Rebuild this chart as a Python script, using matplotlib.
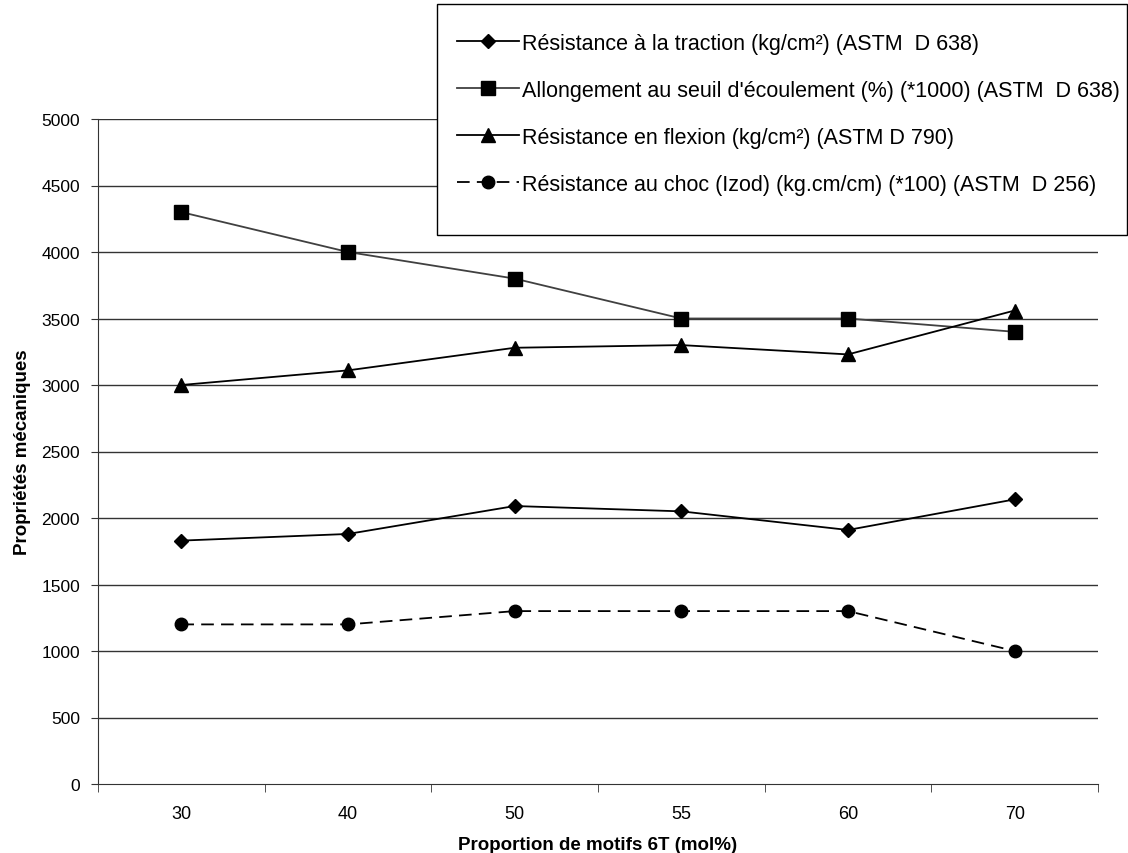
import numpy as np
import matplotlib.pyplot as plt
from matplotlib.patches import Rectangle

plt.rcParams['font.family'] = ['Liberation Sans', 'DejaVu Sans']

# Data
categories = ["30", "40", "50", "55", "60", "70"]
traction = [1830, 1880, 2090, 2050, 1910, 2140]
allongement = [4300, 4000, 3800, 3500, 3500, 3400]
flexion = [3000, 3110, 3280, 3300, 3230, 3560]
choc = [1200, 1200, 1300, 1300, 1300, 1000]

labels = [
    "Résistance à la traction (kg/cm²) (ASTM  D 638)",
    "Allongement au seuil d'écoulement (%) (*1000) (ASTM  D 638)",
    "Résistance en flexion (kg/cm²) (ASTM D 790)",
    "Résistance au choc (Izod) (kg.cm/cm) (*100) (ASTM  D 256)",
]

W, H = 1128, 854
fig = plt.figure(figsize=(W / 100, H / 100), dpi=100)
ax = fig.add_axes([98 / W, 1 - 785 / H, 1000 / W, 665 / H])

x = np.arange(len(categories))

# grid lines
for yv in range(500, 5001, 500):
    ax.axhline(yv, color="#333333", lw=1.0, zorder=0)

ax.plot(x, traction, color="black", lw=1.3, marker="D", markersize=7, label=labels[0])
ax.plot(x, allongement, color="#404040", lw=1.3, marker="s", markersize=9.5,
        mfc="black", mec="black", label=labels[1])
ax.plot(x, flexion, color="black", lw=1.3, marker="^", markersize=10, label=labels[2])
ax.plot(x, choc, color="black", lw=1.3, marker="o", markersize=9, dashes=(7, 4), label=labels[3])

ax.set_xlim(-0.5, len(categories) - 0.5)
ax.set_ylim(0, 5000)
ax.set_yticks(range(0, 5001, 500))
ax.set_xticks(x)
ax.set_xticklabels(categories)
ax.set_xticks(np.arange(-0.5, len(categories)), minor=True)
ax.tick_params(axis="x", which="major", length=0, pad=15, labelsize=13)
ax.tick_params(axis="x", which="minor", length=6, color="#333333")
ax.tick_params(axis="y", length=5, labelsize=12.5, color="#333333", pad=8)

for s in ["top", "right"]:
    ax.spines[s].set_visible(False)
for s in ["left", "bottom"]:
    ax.spines[s].set_color("#333333")

ax.set_xlabel("Proportion de motifs 6T (mol%)", fontsize=13.5, fontweight="bold", labelpad=10)
ax.set_ylabel("Propriétés mécaniques", fontsize=13.5, fontweight="bold", labelpad=7)

# legend frame drawn separately (Excel-style box)
fig.patches.append(Rectangle((437 / W, 1 - 236 / H), 690 / W, 231 / H,
                             transform=fig.transFigure, facecolor="white",
                             edgecolor="black", lw=1.0, zorder=4))

leg = fig.legend(loc="upper left", bbox_to_anchor=(457 / W, 1 - 34 / H),
                 frameon=False, fontsize=15.5, handlelength=2.9,
                 labelspacing=1.2, borderpad=0, handletextpad=0.1,
                 borderaxespad=0)
leg.set_zorder(5)

fig.savefig("out.png", dpi=100)
